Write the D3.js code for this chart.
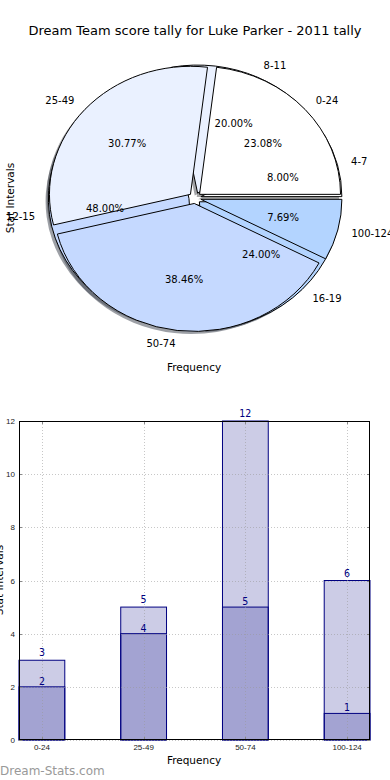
<!DOCTYPE html>
<html>
<head>
<meta charset="utf-8">
<script src="https://cdn.jsdelivr.net/npm/d3@7"></script>
<style>
  html, body { margin: 0; padding: 0; background: #fff; }
  svg { display: block; font-family: "DejaVu Sans", sans-serif; }
</style>
</head>
<body>
<svg id="chart" width="390" height="780"></svg>
<script>
// ---------------- DATA ----------------
const title = "Dream Team score tally for Luke Parker - 2011 tally";
const pieCategoriesA = ["0-24", "25-49", "50-74", "100-124"];
const pieValuesA = [3, 4, 5, 1];
const pieCategoriesB = ["4-7", "8-11", "12-15", "16-19"];
const pieValuesB = [2, 5, 12, 6];
const pieColors = ["#ffffff", "#eaf1ff", "#c5d9ff", "#b3d4ff"];

const barCategories = ["0-24", "25-49", "50-74", "100-124"];
const barBackValues = [3, 5, 12, 6];
const barFrontValues = [2, 4, 5, 1];
const yTickValues = [0, 2, 4, 6, 8, 10, 12];
const xLabel = "Frequency";
const yLabel = "Stat Intervals";
const watermark = "Dream-Stats.com";

// ---------------- SETUP ----------------
const svg = d3.select("#chart");

svg.append("text")
  .attr("x", 195).attr("y", 30)
  .attr("text-anchor", "middle").attr("dominant-baseline", "central")
  .attr("font-size", 13).attr("fill", "#000")
  .text(title);

// ---------------- PIE ----------------
const cx = 195, cy = 198, rx = 141, ry = 128;
const explode = 0.043;
const rScaleX = d3.scaleLinear().domain([0, 1]).range([0, rx]);
const rScaleY = d3.scaleLinear().domain([0, 1]).range([0, ry]);

function buildWedges(cats, vals) {
  const total = d3.sum(vals);
  const pie = d3.pie().sort(null).startAngle(0).endAngle(2 * Math.PI)(vals);
  return pie.map((p, i) => {
    const t0 = p.startAngle, t1 = p.endAngle; // counterclockwise from east
    const tm = (t0 + t1) / 2;
    return {
      cat: cats[i], value: vals[i], pct: vals[i] / total * 100,
      t0, t1, tm, color: pieColors[i],
      ox: rScaleX(explode) * Math.cos(tm),
      oy: -rScaleY(explode) * Math.sin(tm)
    };
  });
}
const wedgesB = buildWedges(pieCategoriesB, pieValuesB);
const wedgesA = buildWedges(pieCategoriesA, pieValuesA);

const unitArc = d3.arc().innerRadius(0).outerRadius(1);
function wedgePath(w) {
  return unitArc({ startAngle: Math.PI / 2 - w.t1, endAngle: Math.PI / 2 - w.t0 });
}
const pieG = svg.append("g");
// shadows (below all wedges)
[...wedgesB, ...wedgesA].forEach(w => {
  const c = d3.rgb(w.color);
  const dark = d3.rgb(c.r * 0.3, c.g * 0.3, c.b * 0.3);
  pieG.append("path")
    .attr("transform", `translate(${cx + w.ox - rScaleX(0.02)},${cy + w.oy + rScaleY(0.02)}) scale(${rx},${ry})`)
    .attr("d", wedgePath(w))
    .attr("fill", dark.toString()).attr("fill-opacity", 0.5)
    .attr("stroke", "none");
});
// wedges
[...wedgesB, ...wedgesA].forEach(w => {
  pieG.append("path")
    .attr("transform", `translate(${cx + w.ox},${cy + w.oy}) scale(${rx},${ry})`)
    .attr("d", wedgePath(w))
    .attr("fill", w.color)
    .attr("stroke", "#000").attr("stroke-width", 1)
    .attr("stroke-linejoin", "miter")
    .attr("vector-effect", "non-scaling-stroke");
});
// labels
[...wedgesB, ...wedgesA].forEach(w => {
  const c = Math.cos(w.tm), s = Math.sin(w.tm);
  pieG.append("text")
    .attr("x", cx + w.ox + rScaleX(1.1) * c)
    .attr("y", cy + w.oy - rScaleY(1.1) * s)
    .attr("text-anchor", c > 0 ? "start" : "end")
    .attr("dominant-baseline", "central")
    .attr("font-size", 10).attr("fill", "#000")
    .text(w.cat);
  pieG.append("text")
    .attr("x", cx + w.ox + rScaleX(0.6) * c)
    .attr("y", cy + w.oy - rScaleY(0.6) * s)
    .attr("text-anchor", "middle")
    .attr("dominant-baseline", "central")
    .attr("font-size", 10).attr("fill", "#000")
    .text(w.pct.toFixed(2) + "%");
});
svg.append("text")
  .attr("transform", "translate(10,198) rotate(-90)")
  .attr("text-anchor", "middle").attr("dominant-baseline", "central")
  .attr("font-size", 10.5).text(yLabel);
svg.append("text")
  .attr("x", 194).attr("y", 367)
  .attr("text-anchor", "middle").attr("dominant-baseline", "central")
  .attr("font-size", 10.5).text(xLabel);

// ---------------- BAR ----------------
const bx0 = 19, bx1 = 370, by0 = 421, by1 = 740;
const x = d3.scaleBand().domain(barCategories).range([bx0, bx1]).paddingInner(0.55).paddingOuter(0);
const y = d3.scaleLinear().domain([0, 12]).range([by1, by0]);
const barG = svg.append("g");
const navy = "#000080";

barCategories.forEach((c, i) => {
  barG.append("rect")
    .attr("x", x(c)).attr("y", y(barBackValues[i]))
    .attr("width", x.bandwidth()).attr("height", y(0) - y(barBackValues[i]))
    .attr("fill", navy).attr("fill-opacity", 0.2)
    .attr("stroke", navy).attr("stroke-width", 1);
});
barCategories.forEach((c, i) => {
  barG.append("rect")
    .attr("x", x(c)).attr("y", y(barFrontValues[i]))
    .attr("width", x.bandwidth()).attr("height", y(0) - y(barFrontValues[i]))
    .attr("fill", navy).attr("fill-opacity", 0.2)
    .attr("stroke", navy).attr("stroke-width", 1);
});

// grid (drawn over bars)
const gridG = svg.append("g").attr("stroke", "#999").attr("stroke-opacity", 0.55)
  .attr("stroke-dasharray", "1,2").attr("stroke-width", 1);
yTickValues.forEach(v => {
  gridG.append("line").attr("x1", bx0).attr("x2", bx1)
    .attr("y1", Math.round(y(v)) + 0.5).attr("y2", Math.round(y(v)) + 0.5);
});
barCategories.forEach(c => {
  const xc = Math.round(x(c) + x.bandwidth() / 2) + 0.5;
  gridG.append("line").attr("x1", xc).attr("x2", xc).attr("y1", by0).attr("y2", by1);
});

// inner ticks on all sides
const tickG = svg.append("g").attr("stroke", "#888").attr("stroke-width", 1);
yTickValues.forEach(v => {
  const yy = Math.round(y(v)) + 0.5;
  tickG.append("line").attr("x1", bx1 - 3).attr("x2", bx1).attr("y1", yy).attr("y2", yy);
  tickG.append("line").attr("x1", bx0).attr("x2", bx0 + 3).attr("y1", yy).attr("y2", yy);
});
barCategories.forEach(c => {
  const xc = Math.round(x(c) + x.bandwidth() / 2) + 0.5;
  tickG.append("line").attr("x1", xc).attr("x2", xc).attr("y1", by0).attr("y2", by0 + 3);
  tickG.append("line").attr("x1", xc).attr("x2", xc).attr("y1", by1 - 3).attr("y2", by1);
});

// frame
svg.append("rect").attr("x", bx0 + 0.5).attr("y", by0 + 0.5)
  .attr("width", bx1 - bx0 - 1).attr("height", by1 - by0 - 1)
  .attr("fill", "none").attr("stroke", "#000").attr("stroke-width", 1);

// axes labels
const axisFont = "Liberation Sans, Arial, sans-serif";
const yAxis = d3.axisLeft(y).tickValues(yTickValues).tickSize(0).tickPadding(4);
const yAx = svg.append("g").attr("transform", `translate(${bx0},0)`).call(yAxis);
yAx.select(".domain").remove();
yAx.selectAll("text").attr("font-size", 8).attr("font-family", axisFont).attr("fill", "#222");
const xAxis = d3.axisBottom(x).tickSize(0).tickPadding(4);
const xAx = svg.append("g").attr("transform", `translate(0,${by1})`).call(xAxis);
xAx.select(".domain").remove();
xAx.selectAll("text").attr("font-size", 8).attr("font-family", axisFont).attr("fill", "#222");

// value labels
const lblFont = "DejaVu Sans Condensed, DejaVu Sans, sans-serif";
barCategories.forEach((c, i) => {
  const xc = x(c) + x.bandwidth() / 2;
  svg.append("text").attr("x", xc).attr("y", y(barBackValues[i]) - 4)
    .attr("text-anchor", "middle").attr("font-size", 10.5).attr("font-family", lblFont)
    .attr("fill", navy).text(barBackValues[i]);
  svg.append("text").attr("x", xc).attr("y", y(barFrontValues[i]) - 2)
    .attr("text-anchor", "middle").attr("font-size", 10.5).attr("font-family", lblFont)
    .attr("fill", navy).text(barFrontValues[i]);
});

svg.append("text").attr("x", 194).attr("y", 760)
  .attr("text-anchor", "middle").attr("dominant-baseline", "central")
  .attr("font-size", 10.5).text(xLabel);
svg.append("text")
  .attr("transform", "translate(-1,580) rotate(-90)")
  .attr("text-anchor", "middle").attr("dominant-baseline", "central")
  .attr("font-size", 10.5).text(yLabel);

svg.append("text").attr("x", 0).attr("y", 775)
  .attr("font-size", 12).attr("font-weight", "normal").attr("fill", "#999")
  .attr("font-family", "DejaVu Sans, sans-serif")
  .text(watermark);
</script>
</body>
</html>
